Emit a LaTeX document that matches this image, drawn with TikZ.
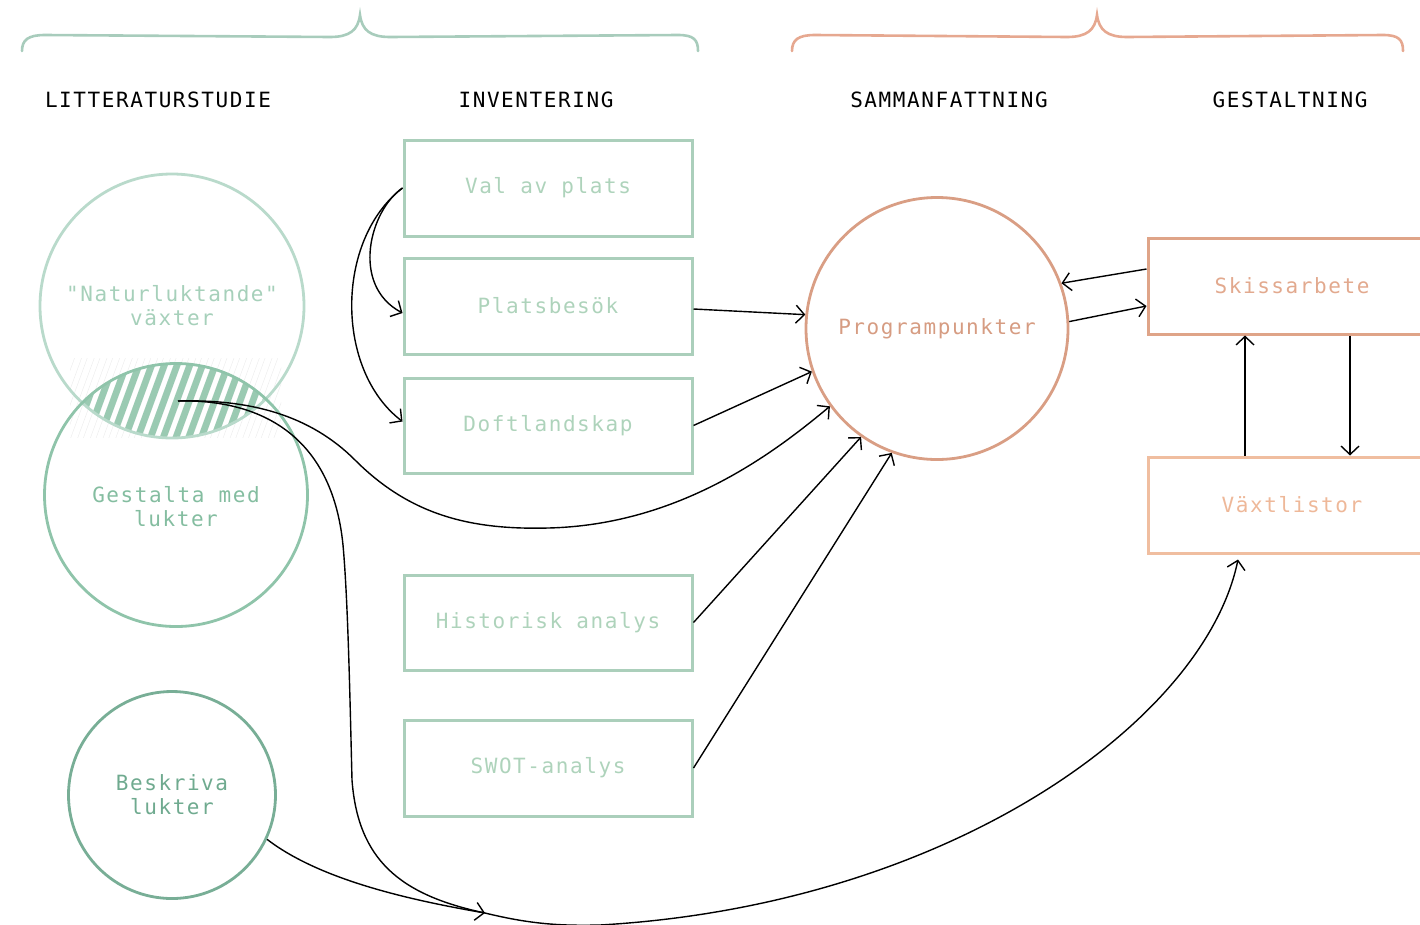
\documentclass[tikz,border=0pt]{standalone}
\usepackage{fontspec}
\usetikzlibrary{arrows.meta,shapes.geometric}
\newfontfamily\lblfont[LetterSpace=7.5]{DejaVu Sans Mono}
\newcommand\mylbl{\lblfont\fontsize{21}{24}\selectfont}
\definecolor{boxG}{HTML}{ABCFBB}
\definecolor{txtG}{HTML}{AED3BB}
\definecolor{natC}{HTML}{B9DACB}
\definecolor{natT}{HTML}{A6D0BA}
\definecolor{gesC}{HTML}{8FC4AA}
\definecolor{gesT}{HTML}{84BDA0}
\definecolor{besC}{HTML}{78AE96}
\definecolor{besT}{HTML}{6FAA8F}
\definecolor{hatchC}{HTML}{9ACAB2}
\definecolor{progC}{HTML}{D99E84}
\definecolor{progT}{HTML}{D69C82}
\definecolor{skisC}{HTML}{DFA488}
\definecolor{skisT}{HTML}{E2A98E}
\definecolor{vaxC}{HTML}{F0BEA0}
\definecolor{vaxT}{HTML}{EEB899}
\definecolor{braceG}{HTML}{A8CCBC}
\definecolor{braceS}{HTML}{E6A890}
\begin{document}
\begin{tikzpicture}[x=1pt,y=-1pt,
  conn/.style={line width=1.4pt, black, -{Straight Barb[length=8.5pt,width=18pt]}},
  hdr/.style={font=\mylbl, text=black, inner sep=0pt},
  gbox/.style={draw=boxG, line width=3pt, minimum width=288pt, minimum height=96pt, text=txtG, font=\mylbl, inner sep=0pt},
  sbox/.style={line width=3pt, minimum width=288pt, minimum height=96pt, font=\mylbl, inner sep=0pt},
  circ/.style={circle, line width=2.8pt, font=\mylbl, align=center, inner sep=0pt},
  brace/.style={line width=2.6pt, line cap=round}
]
\useasboundingbox (0,0) rectangle (1420,924);

% braces
\draw[brace, braceG] (22,51) .. controls (22,40) and (28,35) .. (45,35) -- (330,37)
  .. controls (350,37) and (358,30) .. (360,15) .. controls (362,30) and (370,37) .. (390,37)
  -- (678,35) .. controls (694,35) and (698,40) .. (698,51);
\draw[brace, braceS] (792,51) .. controls (792,40) and (798,35) .. (815,35) -- (1067,37)
  .. controls (1087,37) and (1095,30) .. (1097,15) .. controls (1099,30) and (1107,37) .. (1127,37)
  -- (1383,35) .. controls (1399,35) and (1403,40) .. (1403,51);

% headers
\node[hdr] (h1) at (158,100) {LITTERATURSTUDIE};
\node[hdr] (h2) at (536,100) {INVENTERING};
\node[hdr] (h3) at (949,100) {SAMMANFATTNING};
\node[hdr] (h4) at (1290,100) {GESTALTNING};

% faint stripe outlines
\begin{scope}
  \clip (70,358) rectangle (281,437);
  \foreach \i in {0,...,24}
    \draw[black!8, line width=0.4pt] (30+12.7*\i,445) -- ++(7,0) -- ++(33,-90) -- ++(-7,0) -- cycle;
\end{scope}
% hatched lens
\begin{scope}
  \clip (172,306) circle[radius=132pt];
  \clip (176,495) circle[radius=131.5pt];
  \foreach \i in {0,...,24}
    \fill[hatchC] (30+12.7*\i,445) -- ++(7,0) -- ++(33,-90) -- ++(-7,0) -- cycle;
\end{scope}

% circles
\node[circ, draw=natC, text=natT, minimum size=264pt] (nat) at (172,306) {"Naturluktande"\\växter};
\node[circ, draw=gesC, text=gesT, minimum size=263pt] (ges) at (176,495)
  {\raisebox{-20pt}[24pt][24pt]{\begin{tabular}{@{}c@{}}Gestalta med\\lukter\end{tabular}}};
\node[circ, draw=besC, text=besT, minimum size=207pt] (bes) at (172,795) {Beskriva\\lukter};
\node[circ, draw=progC, text=progT, minimum size=262pt] (prog) at (937,328.5) {Programpunkter};

% boxes
\node[gbox] (val) at (548,188) {Val av plats};
\node[gbox] (plat) at (548,306) {Platsbesök};
\node[gbox, minimum height=95pt] (doft) at (548,425.5) {Doftlandskap};
\node[gbox, minimum height=95pt] (hist) at (548,622.5) {Historisk analys};
\node[gbox] (swot) at (548,768) {SWOT-analys};
\node[sbox, draw=skisC, text=skisT] (skis) at (1292,286) {Skissarbete};
\node[sbox, draw=vaxC, text=vaxT] (vax) at (1292,505) {Växtlistor};

\coordinate (hs) at (178,401);
\coordinate (j) at (485,913);

% connectors
\draw[conn] (val.west) .. controls (370,210) and (350,285) .. ([yshift=-7pt]plat.west);
\draw[conn] (val.west) .. controls (335,240) and (335,370) .. ([yshift=4pt]doft.west);
\draw[conn] ([yshift=-3pt]plat.east) -- (prog.174.6);
\draw[conn] (doft.east) -- (prog.199.3);
\draw[conn] (hist.east) -- (prog.235.3);
\draw[conn] (swot.east) -- (prog.250);
\draw[conn] (hs) .. controls (250,399) and (310,415) .. (355,460)
  .. controls (410,515) and (470,530) .. (548,528)
  .. controls (680,525) and (775,452) .. (prog.216.5);
\draw[conn] (hs) .. controls (260,399) and (332,435) .. (343,545)
  .. controls (348,600) and (350,700) .. (352,780)
  .. controls (358,860) and (400,895) .. (j)
  .. controls (530,924) and (560,926) .. (600,925)
  .. controls (950,905) and (1205,720) .. ([xshift=-54pt,yshift=-5pt]vax.south);
\draw[conn] (bes.-25) .. controls (320,880) and (410,900) .. (j);
\draw[conn] ([yshift=17pt]skis.west) -- (prog.20.3);
\draw[conn] (prog.3.7) -- ([yshift=-20pt]skis.west);
\draw[conn] ([xshift=-47pt]vax.north) -- ([xshift=-47pt]skis.south);
\draw[conn] ([xshift=58pt]skis.south) -- ([xshift=58pt]vax.north);
\end{tikzpicture}
\end{document}
